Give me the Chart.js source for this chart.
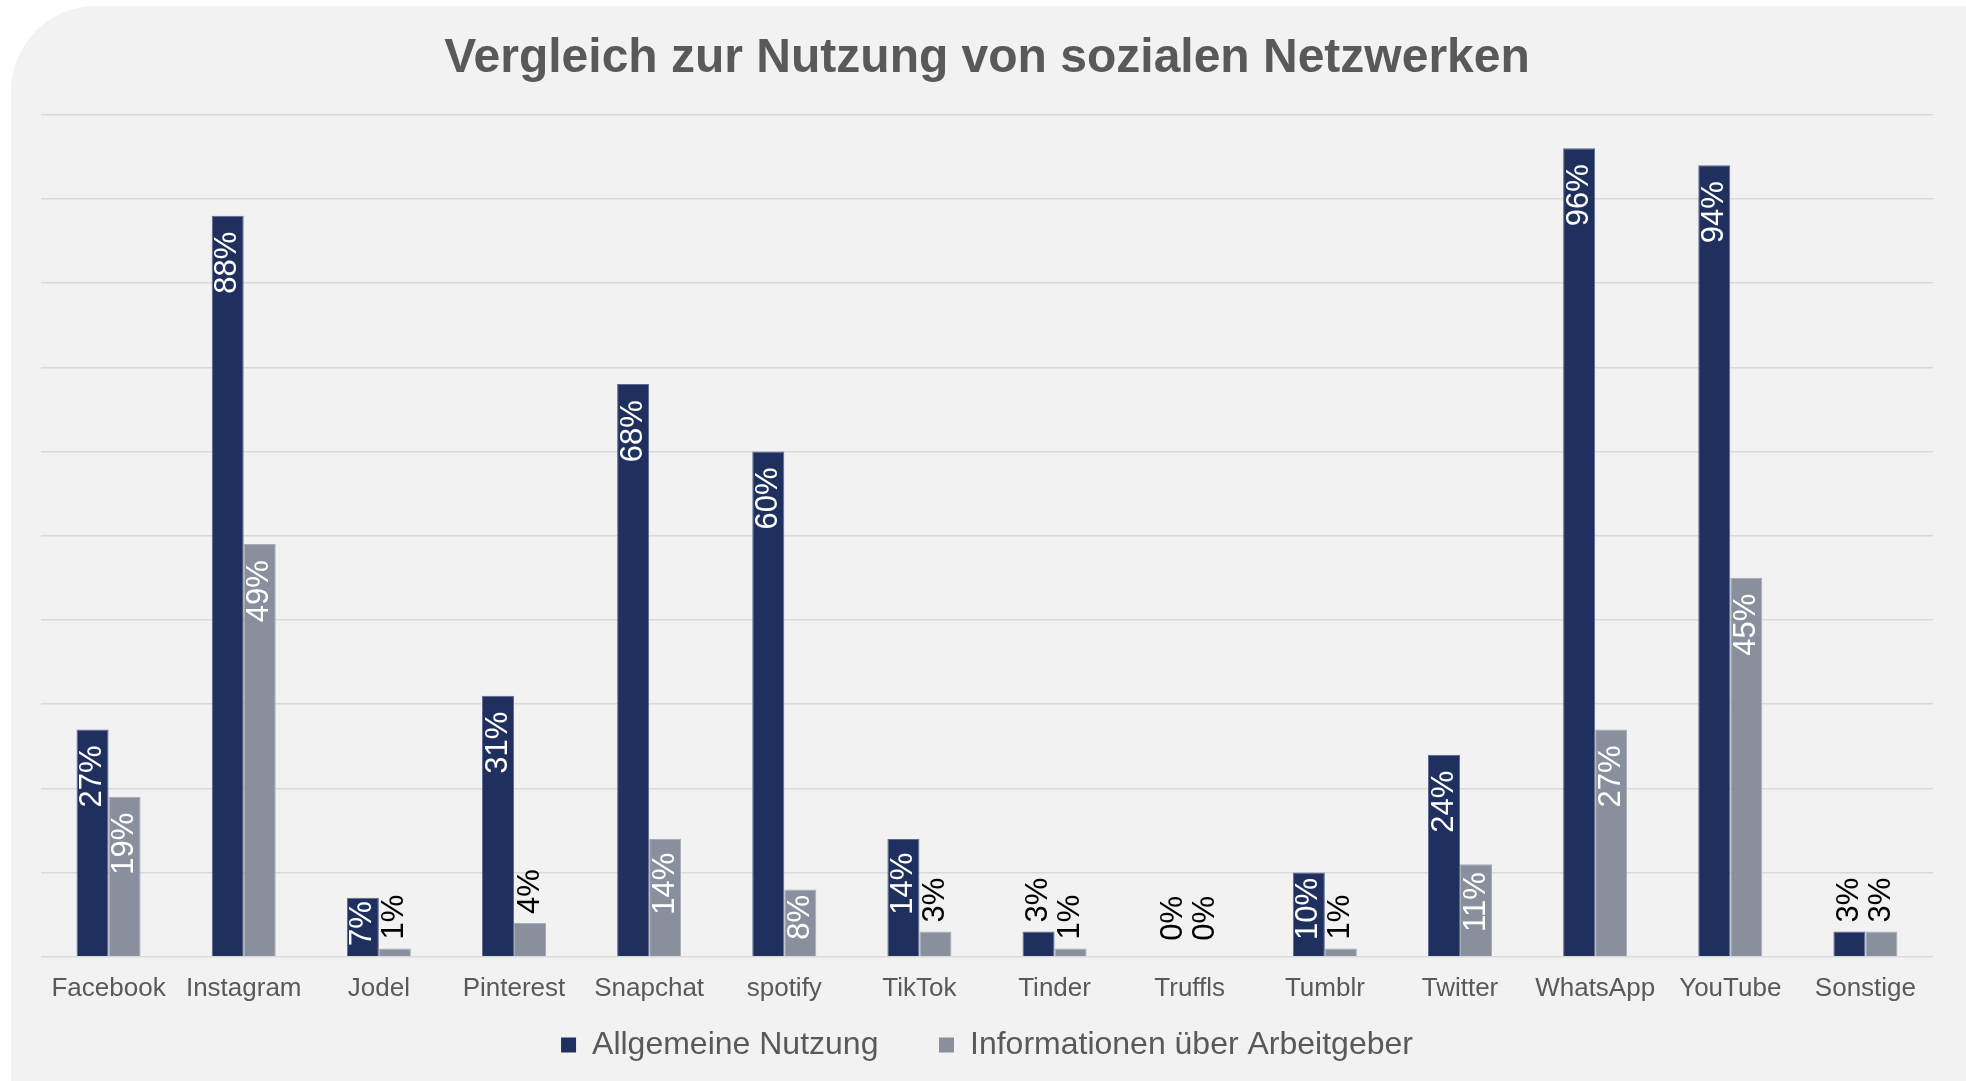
<!DOCTYPE html>
<html>
<head>
<meta charset="utf-8">
<script src="https://cdn.jsdelivr.net/npm/chart.js@4.4.1/dist/chart.umd.min.js"></script>
<style>
  html, body { margin: 0; padding: 0; background: #ffffff; overflow: hidden; }
  #panel {
    position: absolute; left: 11px; top: 6px; right: 0; bottom: 0;
    background: #f2f2f2; border-top-left-radius: 85px;
  }
  #wrap { position: absolute; left: 0; top: 0; width: 1966px; height: 1081px; }
</style>
</head>
<body>
<div id="panel"></div>
<div id="wrap"><canvas id="socialChart"></canvas></div>
<script>
// chart data
const categories = ['Facebook', 'Instagram', 'Jodel', 'Pinterest', 'Snapchat', 'spotify', 'TikTok',
    'Tinder', 'Truffls', 'Tumblr', 'Twitter', 'WhatsApp', 'YouTube', 'Sonstige'];
const allgemeineNutzung = [27, 88, 7, 31, 68, 60, 14, 3, 0, 10, 24, 96, 94, 3];
const infoArbeitgeber = [19, 49, 1, 4, 14, 8, 3, 1, 0, 1, 11, 27, 45, 3];
const seriesNames = ['Allgemeine Nutzung', 'Informationen über Arbeitgeber'];
const yTicks = { min: 0, max: 100, step: 10 };

const FONT = '"Liberation Sans", Arial, sans-serif';
const TEXT_GREY = '#595959';

// vertical value labels: white inside the bar if it fits, black above otherwise
const barLabels = {
    id: 'barLabels',
    afterDatasetsDraw(chart) {
        const ctx = chart.ctx;
        ctx.save();
        ctx.font = '31px ' + FONT;
        ctx.textBaseline = 'middle';
        chart.data.datasets.forEach((ds, i) => {
            const meta = chart.getDatasetMeta(i);
            meta.data.forEach((bar, j) => {
                const text = ds.data[j] + '%';
                const len = ctx.measureText(text).width;
                const h = bar.base - bar.y;
                ctx.save();
                ctx.translate(bar.x, bar.y);
                ctx.rotate(-Math.PI / 2);
                if (h > len + 6) {
                    const gap = Math.min(16, (h - len) / 4);
                    ctx.fillStyle = '#ffffff';
                    ctx.textAlign = 'right';
                    ctx.fillText(text, -gap, 0);
                } else {
                    ctx.fillStyle = '#000000';
                    ctx.textAlign = 'left';
                    ctx.fillText(text, h > 0 ? 9 : 16, 0);
                }
                ctx.restore();
            });
        });
        ctx.restore();
    }
};

const canvas = document.getElementById('socialChart');
canvas.width = 1966;
canvas.height = 1081;

new Chart(canvas, {
    type: 'bar',
    data: {
        labels: categories,
        datasets: [
            {
                label: seriesNames[0],
                data: allgemeineNutzung,
                backgroundColor: '#1f305e',
                borderColor: '#5d6a8f',
                borderWidth: 1,
                categoryPercentage: 0.474,
                barPercentage: 1.0
            },
            {
                label: seriesNames[1],
                data: infoArbeitgeber,
                backgroundColor: '#8a8f9d',
                borderColor: '#a7acb8',
                borderWidth: 1,
                categoryPercentage: 0.474,
                barPercentage: 1.0
            }
        ]
    },
    options: {
        responsive: false,
        animation: false,
        devicePixelRatio: 1,
        layout: {
            padding: { left: 41, right: 33, top: 0, bottom: 10 }
        },
        plugins: {
            title: {
                display: true,
                text: 'Vergleich zur Nutzung von sozialen Netzwerken',
                color: TEXT_GREY,
                font: { family: FONT, size: 48, weight: 'bold' },
                padding: { top: 30, bottom: 27 }
            },
            legend: {
                position: 'bottom',
                labels: {
                    color: TEXT_GREY,
                    font: { family: FONT, size: 32 },
                    boxWidth: 15,
                    boxHeight: 15,
                    padding: 25,
                    generateLabels(chart) {
                        const items = Chart.defaults.plugins.legend.labels.generateLabels(chart);
                        items.forEach((it, i) => {
                            it.lineWidth = 0;
                            // wider gap between the two entries
                            if (i < items.length - 1) it.text += '    ';
                        });
                        return items;
                    }
                }
            },
            tooltip: { enabled: false }
        },
        scales: {
            x: {
                // invisible tick marks only to push the labels down
                grid: {
                    display: true,
                    drawOnChartArea: false,
                    drawTicks: true,
                    tickLength: 16,
                    color: 'rgba(0,0,0,0)'
                },
                border: { display: false },
                ticks: {
                    color: TEXT_GREY,
                    font: { family: FONT, size: 26 },
                    padding: 0,
                    maxRotation: 0,
                    autoSkip: false
                }
            },
            y: {
                min: yTicks.min,
                max: yTicks.max,
                ticks: { display: false, stepSize: yTicks.step },
                grid: { color: '#d9d9d9', lineWidth: 1.5, drawTicks: false },
                border: { display: false }
            }
        }
    },
    plugins: [barLabels]
});
</script>
</body>
</html>
